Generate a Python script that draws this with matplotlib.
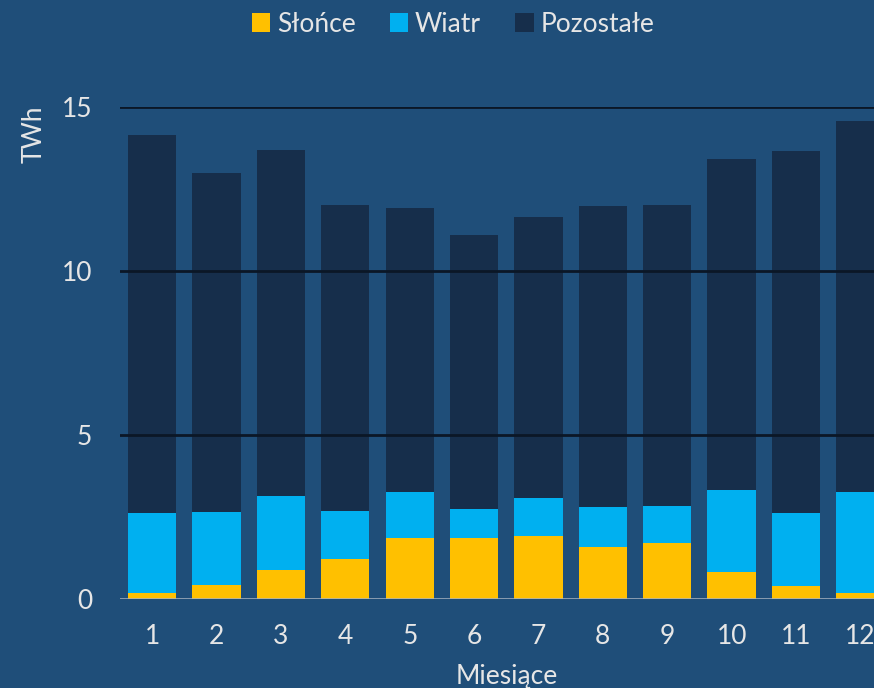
import numpy as np
import matplotlib.pyplot as plt

# monthly generation, TWh
months = [str(m) for m in range(1, 13)]
slonce = [0.17, 0.42, 0.89, 1.21, 1.87, 1.87, 1.93, 1.59, 1.70, 0.82, 0.39, 0.17]
wiatr = [2.45, 2.24, 2.25, 1.46, 1.40, 0.86, 1.16, 1.21, 1.15, 2.50, 2.22, 3.10]
pozostale = [11.53, 10.33, 10.55, 9.34, 8.65, 8.37, 8.56, 9.18, 9.16, 10.09, 11.05, 11.30]

bg = '#1f4e79'
txt = '#e6e6e6'
plt.rcParams['font.family'] = ['Lato', 'DejaVu Sans']

fig = plt.figure(figsize=(8.74, 6.88), dpi=100, facecolor=bg)
ax = fig.add_axes([120 / 874, 89 / 688, (892.6 - 120) / 874, 492 / 688])
ax.set_facecolor(bg)

x = np.arange(1, 13)
s = np.array(slonce)
w = np.array(wiatr)
p = np.array(pozostale)
ax.bar(x, s, width=0.75, color='#ffc000', label='Słońce', zorder=2)
ax.bar(x, w, width=0.75, bottom=s, color='#00b0f0', label='Wiatr', zorder=2)
ax.bar(x, p, width=0.75, bottom=s + w, color='#162e4b', label='Pozostałe', zorder=2)

ax.set_xlim(0.5, 12.5)
ax.set_ylim(0, 15)
ax.set_yticks([0, 5, 10, 15])
ax.set_xticks(x)
ax.set_xticklabels(months)
for yv in [5, 10, 15]:
    ax.axhline(yv, color='#0b1726', lw=2.0, zorder=3)
ax.axhline(0, color='#a9b4c0', lw=1.8, zorder=3)

for sp in ax.spines.values():
    sp.set_visible(False)
ax.tick_params(length=0, colors=txt, labelsize=19)
ax.tick_params(axis='y', pad=20)
ax.tick_params(axis='x', pad=18)

ax.set_xlabel('Miesiące', color=txt, fontsize=19, labelpad=11)
fig.text(34 / 874, 1 - 134 / 688, 'TWh', rotation=90, ha='center', va='center',
         color=txt, fontsize=19)

leg = fig.legend(loc='center', bbox_to_anchor=(453 / 874, 1 - 24 / 688), ncol=3,
                 frameon=False, fontsize=19, handlelength=0.7, handleheight=0.7,
                 handletextpad=0.25, columnspacing=1.3)
for t in leg.get_texts():
    t.set_color(txt)

fig.savefig('out.png', dpi=100, facecolor=bg)
